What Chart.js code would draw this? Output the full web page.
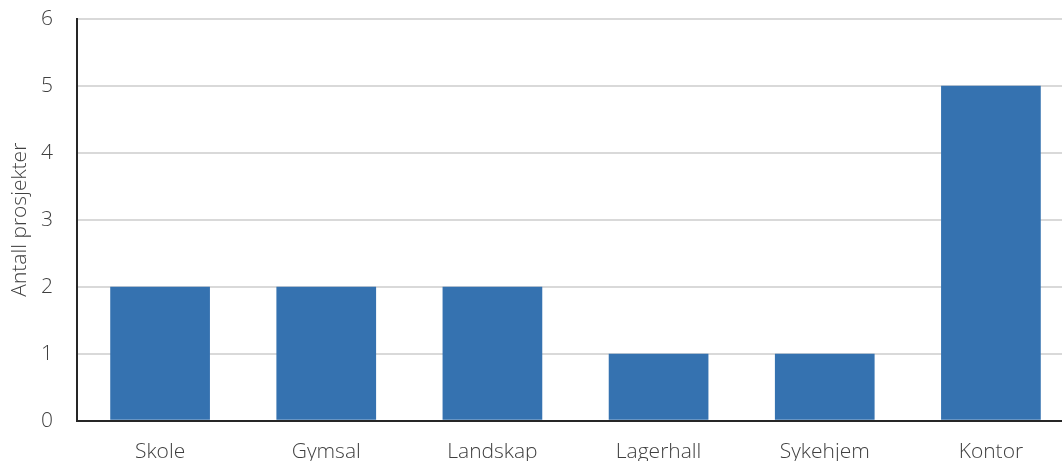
<!DOCTYPE html>
<html>
<head>
<meta charset="utf-8">
<style>
  html, body { margin: 0; padding: 0; background: #fff; overflow: hidden; }
  #wrap { position: relative; width: 1074px; height: 502px; margin-top: -18px; }
</style>
<script src="https://cdn.jsdelivr.net/npm/chart.js@4/dist/chart.umd.min.js"></script>
</head>
<body>
<div id="wrap"><canvas id="c"></canvas></div>
<script>
// Antall prosjekter per bygningstype
const categories = ['Skole', 'Gymsal', 'Landskap', 'Lagerhall', 'Sykehjem', 'Kontor'];
const projectCounts = [2, 2, 2, 1, 1, 5];
const yTicks = [0, 1, 2, 3, 4, 5, 6];

const font = { family: "'Open Sans', 'Noto Sans', sans-serif", size: 21, weight: '300' };

new Chart(document.getElementById('c'), {
  type: 'bar',
  data: {
    labels: categories,
    datasets: [{
      data: projectCounts,
      backgroundColor: '#3572b0',
      borderWidth: 0,
      categoryPercentage: 1,
      barPercentage: 0.6
    }]
  },
  options: {
    responsive: true,
    maintainAspectRatio: false,
    animation: false,
    layout: { padding: { top: 0, left: 0, right: 0, bottom: 0 } },
    plugins: { legend: { display: false }, tooltip: { enabled: false } },
    scales: {
      x: {
        grid: { display: false, drawTicks: false },
        border: { display: true, color: '#262626', width: 2 },
        ticks: { color: '#404040', font: font, padding: 19 }
      },
      y: {
        min: 0, max: 6,
        afterBuildTicks: (s) => { s.ticks = yTicks.map(v => ({ value: v })); },
        afterFit: (s) => { s.width = 77; },
        grid: { color: '#d9d9d9', lineWidth: 2, drawTicks: false },
        border: { display: true, color: '#262626', width: 2 },
        ticks: { color: '#404040', font: font, padding: 24 },
        title: { display: true, text: 'Antall prosjekter', color: '#404040', font: font, padding: { top: 7, bottom: 0 } }
      }
    }
  }
});
</script>
</body>
</html>
